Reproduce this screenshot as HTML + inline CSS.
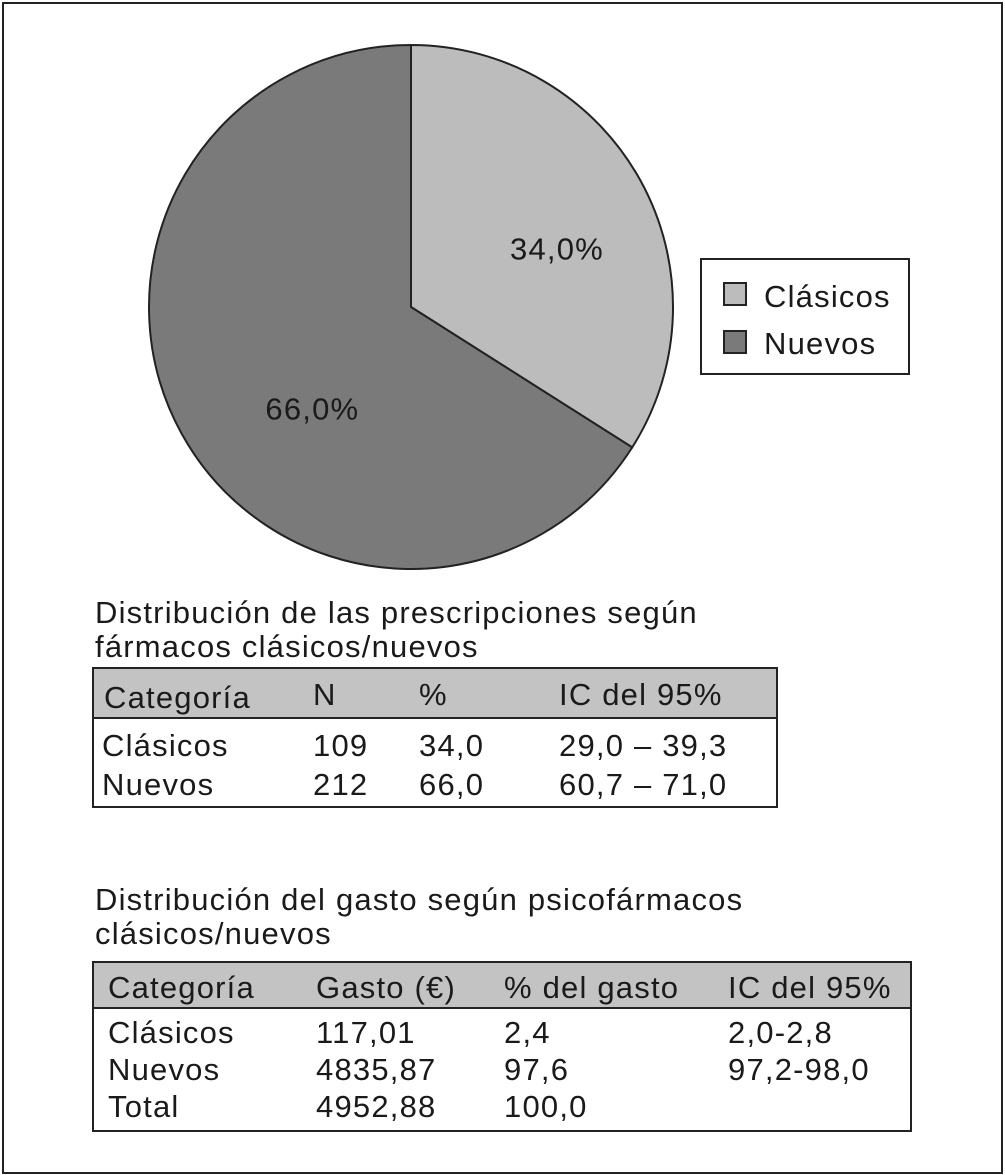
<!DOCTYPE html>
<html><head><meta charset="utf-8"><style>
body{margin:0;background:#fff;font-family:"Liberation Sans",Arial,sans-serif;color:#1a1a1a}
#frame{position:absolute;left:2px;top:2px;width:997px;height:1168px;border:2px solid #222;}
.t{position:absolute;font-size:31px;letter-spacing:1.2px;white-space:nowrap;line-height:1}
.box{position:absolute;border:2px solid #222;box-sizing:border-box}
.hdr{position:absolute;background:#c3c3c3;border-bottom:2px solid #222;box-sizing:border-box}
</style></head><body>
<div id="frame"></div>
<svg id="pie" width="1005" height="600" style="position:absolute;left:0;top:0"></svg>
<div class="box" style="left:700px;top:258px;width:210px;height:117px">
 <div style="position:absolute;left:21px;top:22px;width:24px;height:24px;background:#bcbcbc;border:2px solid #222;box-sizing:border-box"></div>
 <div class="t" style="left:62px;top:21px">Clásicos</div>
 <div style="position:absolute;left:21px;top:70px;width:24px;height:24px;background:#7a7a7a;border:2px solid #222;box-sizing:border-box"></div>
 <div class="t" style="left:62px;top:68px">Nuevos</div>
</div>
<div class="t" style="left:95px;top:596px;line-height:34px">Distribución de las prescripciones según<br>fármacos clásicos/nuevos</div>
<div class="box" style="left:92px;top:667px;width:686px;height:141px">
 <div class="hdr" style="left:0;top:0;width:682px;height:50px"></div>
 <div class="t" style="left:10px;top:13px">Categoría</div><div class="t" style="left:219px;top:10px">N</div><div class="t" style="left:325px;top:10px">%</div><div class="t" style="left:465px;top:10px">IC del 95%</div>
 <div class="t" style="left:8px;top:61px">Clásicos</div><div class="t" style="left:219px;top:61px">109</div><div class="t" style="left:325px;top:61px">34,0</div><div class="t" style="left:465px;top:61px">29,0 – 39,3</div>
 <div class="t" style="left:8px;top:100px">Nuevos</div><div class="t" style="left:219px;top:100px">212</div><div class="t" style="left:325px;top:100px">66,0</div><div class="t" style="left:465px;top:100px">60,7 – 71,0</div>
</div>
<div class="t" style="left:95px;top:883px;line-height:34px">Distribución del gasto según psicofármacos<br>clásicos/nuevos</div>
<div class="box" style="left:92px;top:961px;width:820px;height:171px">
 <div class="hdr" style="left:0;top:0;width:816px;height:46px"></div>
 <div class="t" style="left:14px;top:9px">Categoría</div><div class="t" style="left:222px;top:9px">Gasto (€)</div><div class="t" style="left:410px;top:9px">% del gasto</div><div class="t" style="left:634px;top:9px">IC del 95%</div>
 <div class="t" style="left:14px;top:54px">Clásicos</div><div class="t" style="left:222px;top:54px">117,01</div><div class="t" style="left:410px;top:54px">2,4</div><div class="t" style="left:634px;top:54px">2,0-2,8</div>
 <div class="t" style="left:14px;top:91px">Nuevos</div><div class="t" style="left:222px;top:91px">4835,87</div><div class="t" style="left:410px;top:91px">97,6</div><div class="t" style="left:634px;top:91px">97,2-98,0</div>
 <div class="t" style="left:14px;top:128px">Total</div><div class="t" style="left:222px;top:128px">4952,88</div><div class="t" style="left:410px;top:128px">100,0</div>
</div>
<script>
const categories=['Clásicos','Nuevos'];
const values=[34.0,66.0];
const labels=['34,0%','66,0%'];
const colors=['#bcbcbc','#7a7a7a'];
const svg=document.getElementById('pie');const NS='http://www.w3.org/2000/svg';
const cx=411,cy=307,r=262;
const labelFrac=[0.6,0.54];
const labelAngleOffset=[7,-17];
const total=values.reduce((a,b)=>a+b,0);
let a0=0;
values.forEach((v,i)=>{
 const a1=a0+v/total*2*Math.PI;
 const x0=cx+r*Math.sin(a0),y0=cy-r*Math.cos(a0),x1=cx+r*Math.sin(a1),y1=cy-r*Math.cos(a1);
 const p=document.createElementNS(NS,'path');
 p.setAttribute('d',`M${cx},${cy}L${x0},${y0}A${r},${r} 0 ${a1-a0>Math.PI?1:0} 1 ${x1},${y1}Z`);
 p.setAttribute('fill',colors[i]);p.setAttribute('stroke','#222');p.setAttribute('stroke-width','2');
 
 
 svg.appendChild(p);
 const am=(a0+a1)/2+labelAngleOffset[i]*Math.PI/180;
 const t=document.createElementNS(NS,'text');
 t.setAttribute('x',cx+r*labelFrac[i]*Math.sin(am));t.setAttribute('y',cy-r*labelFrac[i]*Math.cos(am)+11);
 t.setAttribute('text-anchor','middle');t.setAttribute('font-size','31');t.setAttribute('letter-spacing','1.2');t.setAttribute('fill','#1a1a1a');
 t.setAttribute('font-family','Liberation Sans, Arial, sans-serif');
 t.textContent=labels[i];
 
 
 svg.appendChild(t);
 a0=a1;
});
</script>
</body></html>
